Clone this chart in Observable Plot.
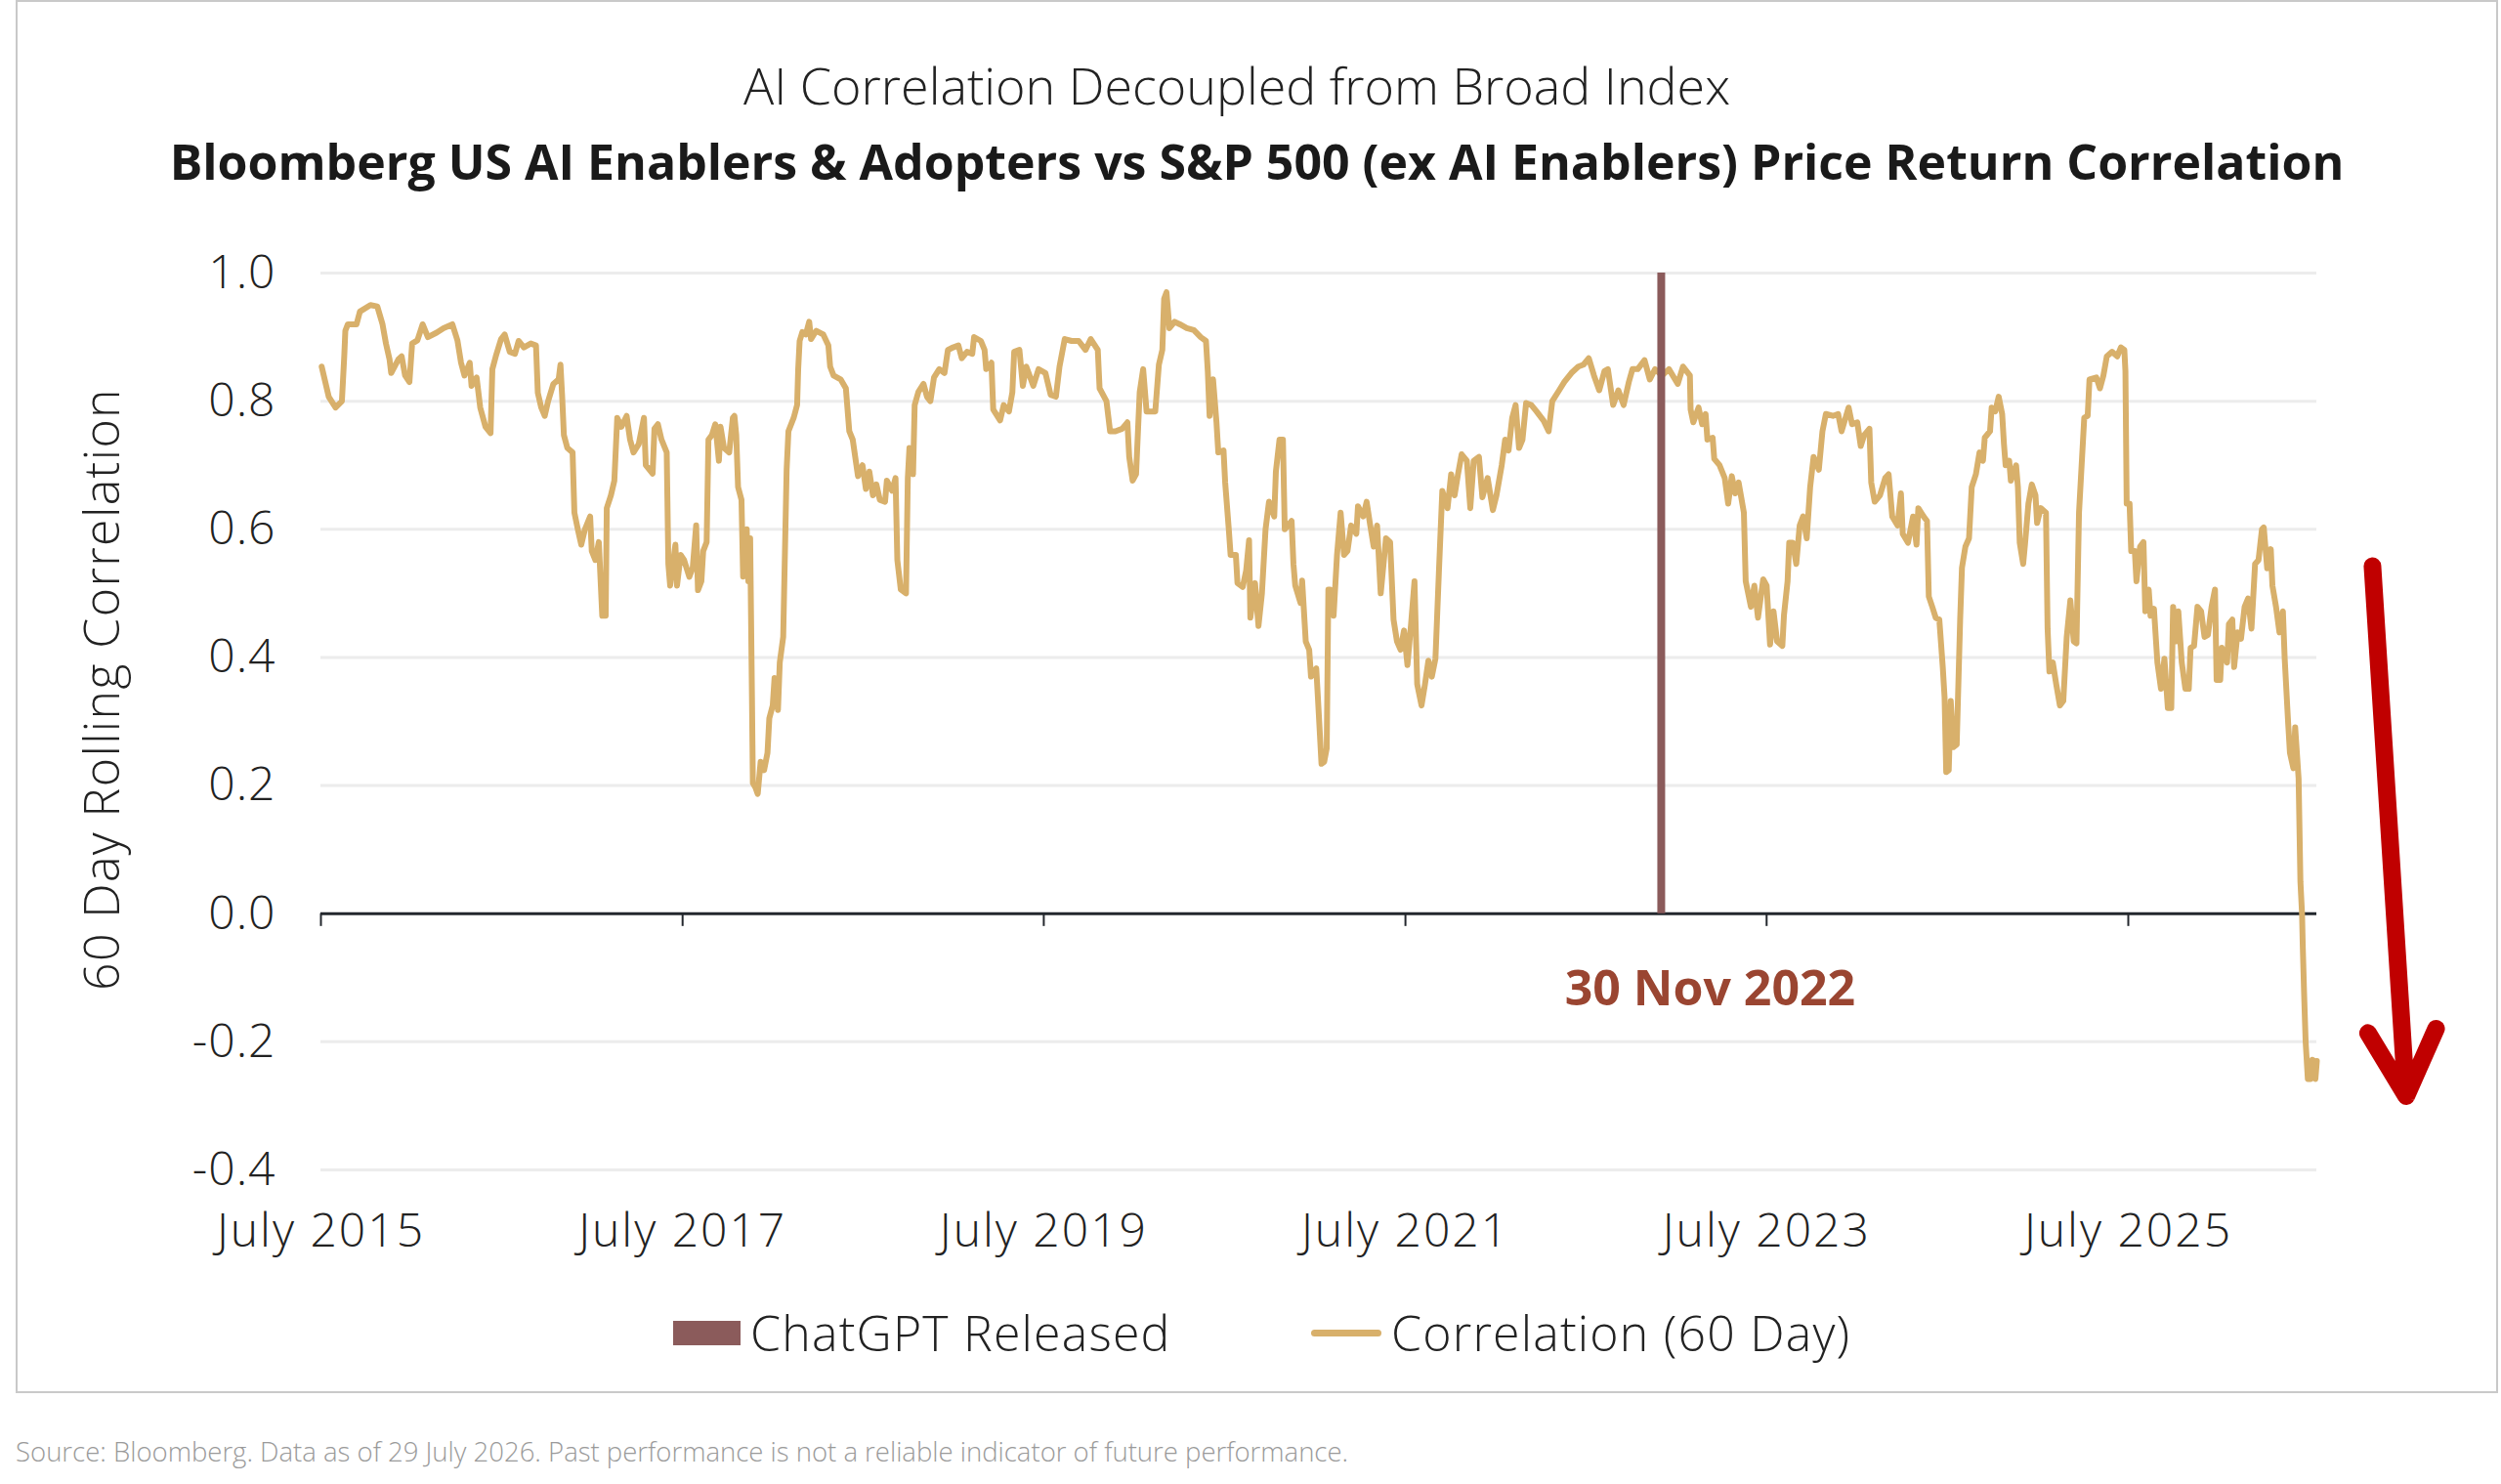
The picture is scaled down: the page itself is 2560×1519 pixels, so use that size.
<!DOCTYPE html>
<html>
<head>
<meta charset="utf-8">
<script src="https://cdn.jsdelivr.net/npm/d3@7"></script>
<script src="https://cdn.jsdelivr.net/npm/@observablehq/plot@0.6"></script>
<style>
html, body { margin: 0; padding: 0; background: #fff; }
body { width: 2560px; height: 1519px; position: relative; overflow: hidden; font-family: "Open Sans", sans-serif; color: #222; }
#frame { position: absolute; left: 16px; top: 0; width: 2541px; height: 1426px; border: 2px solid #c9c9c9; box-sizing: border-box; }
#t1 { position: absolute; left: 0; width: 2532px; top: 55px; line-height: 64px; text-align: center; font-weight: 300; font-size: 52px; color: #222; }
#t2 { position: absolute; left: 16px; width: 2541px; top: 133px; line-height: 64px; text-align: center; font-weight: 700; font-size: 50px; color: #1a1a1a; }
#chart { position: absolute; left: 0; top: 230px; }
#chart g[aria-label="x-axis tick label"] text { letter-spacing: 2px; }
#chart g[aria-label="y-axis tick label"] text { letter-spacing: 1px; }
.leg { position: absolute; top: 1332px; height: 64px; line-height: 64px; font-size: 50px; letter-spacing: 1.2px; font-weight: 300; color: #222; white-space: nowrap; }
.sw-rect { position: absolute; top: 1352px; width: 69px; height: 25px; }
.sw-line { position: absolute; top: 1361px; width: 72px; height: 7px; border-radius: 4px; }
#source { position: absolute; left: 16px; top: 1470px; line-height: 32px; font-size: 27.5px; font-weight: 300; color: #9a9a9a; white-space: nowrap; }
</style>
</head>
<body>
<div id="frame"></div>
<div id="t1">AI Correlation Decoupled from Broad Index</div>
<div id="t2">Bloomberg US AI Enablers &amp; Adopters vs S&amp;P 500 (ex AI Enablers) Price Return Correlation</div>
<div id="chart"></div>
<div class="sw-rect" id="sw1" style="left:689px;"></div>
<div class="leg" id="lg1" style="left:768px;"></div>
<div class="sw-line" id="sw2" style="left:1342px;"></div>
<div class="leg" id="lg2" style="left:1424px;"></div>
<div id="source">Source: Bloomberg. Data as of 29 July 2026. Past performance is not a reliable indicator of future performance.</div>
<script>
// ---- data ----
const seriesNames = ["ChatGPT Released", "Correlation (60 Day)"];
const seriesColors = ["#8B5B5B", "#D8B06B"];
const yTitle = "60 Day Rolling Correlation";
const annotationText = "30 Nov 2022";
const chatgptDay = "2022-11-30";
const tickYears = [2015, 2017, 2019, 2021, 2023, 2025];
const yTicks = [-0.4, -0.2, 0.0, 0.2, 0.4, 0.6, 0.8, 1.0];

// time as decimal years
const corrYear = [
2015.500,2015.539,2015.577,2015.612,2015.625,2015.631,2015.645,2015.693,2015.712,2015.770,
2015.808,2015.837,2015.856,2015.876,2015.885,2015.924,2015.943,2015.962,2015.986,2016.001,
2016.030,2016.059,2016.088,2016.136,2016.174,2016.223,2016.251,2016.271,2016.290,2016.319,
2016.329,2016.357,2016.377,2016.406,2016.434,2016.444,2016.463,2016.492,2016.512,2016.540,
2016.569,2016.589,2016.618,2016.656,2016.685,2016.695,2016.714,2016.733,2016.752,2016.781,
2016.810,2016.820,2016.829,2016.839,2016.858,2016.887,2016.897,2016.916,2016.935,2016.955,
2016.984,2016.993,2017.013,2017.032,2017.051,2017.070,2017.076,2017.099,2017.118,2017.134,
2017.157,2017.186,2017.205,2017.224,2017.253,2017.282,2017.292,2017.330,2017.340,2017.359,
2017.379,2017.408,2017.417,2017.427,2017.456,2017.465,2017.485,2017.504,2017.533,2017.552,
2017.571,2017.581,2017.600,2017.610,2017.629,2017.639,2017.658,2017.677,2017.697,2017.706,
2017.725,2017.754,2017.774,2017.783,2017.793,2017.803,2017.822,2017.831,2017.851,2017.860,
2017.870,2017.880,2017.885,2017.899,2017.912,2017.928,2017.947,2017.966,2017.976,2017.995,
2018.005,2018.024,2018.034,2018.053,2018.072,2018.082,2018.111,2018.130,2018.136,2018.144,
2018.159,2018.178,2018.197,2018.207,2018.236,2018.275,2018.303,2018.313,2018.332,2018.371,
2018.400,2018.419,2018.438,2018.467,2018.492,2018.511,2018.530,2018.550,2018.569,2018.588,
2018.617,2018.627,2018.656,2018.675,2018.685,2018.704,2018.733,2018.743,2018.752,2018.772,
2018.781,2018.801,2018.830,2018.849,2018.868,2018.888,2018.917,2018.946,2018.965,2018.994,
2019.023,2019.042,2019.071,2019.100,2019.110,2019.148,2019.168,2019.177,2019.206,2019.216,
2019.254,2019.274,2019.303,2019.322,2019.332,2019.361,2019.380,2019.399,2019.438,2019.467,
2019.505,2019.534,2019.563,2019.583,2019.612,2019.650,2019.689,2019.727,2019.756,2019.795,
2019.805,2019.843,2019.863,2019.892,2019.930,2019.959,2019.969,2019.988,2020.007,2020.027,
2020.046,2020.065,2020.113,2020.133,2020.152,2020.162,2020.175,2020.191,2020.220,2020.249,
2020.287,2020.326,2020.364,2020.393,2020.403,2020.413,2020.432,2020.451,2020.461,2020.490,
2020.499,2020.519,2020.529,2020.558,2020.567,2020.596,2020.615,2020.631,2020.638,2020.664,
2020.683,2020.702,2020.722,2020.741,2020.770,2020.779,2020.799,2020.818,2020.828,2020.866,
2020.876,2020.886,2020.915,2020.924,2020.944,2020.963,2020.973,2021.002,2021.011,2021.031,
2021.046,2021.060,2021.069,2021.079,2021.098,2021.117,2021.137,2021.156,2021.175,2021.195,
2021.224,2021.233,2021.262,2021.281,2021.301,2021.320,2021.339,2021.359,2021.388,2021.411,
2021.430,2021.449,2021.469,2021.488,2021.507,2021.527,2021.546,2021.561,2021.585,2021.604,
2021.623,2021.642,2021.662,2021.681,2021.691,2021.700,2021.729,2021.749,2021.768,2021.787,
2021.807,2021.836,2021.855,2021.874,2021.903,2021.922,2021.951,2021.980,2022.000,2022.029,
2022.048,2022.067,2022.087,2022.106,2022.125,2022.144,2022.164,2022.193,2022.222,2022.260,
2022.289,2022.309,2022.347,2022.376,2022.415,2022.453,2022.482,2022.511,2022.540,2022.569,
2022.598,2022.617,2022.646,2022.675,2022.704,2022.733,2022.753,2022.782,2022.820,2022.849,
2022.878,2022.917,2022.955,2023.004,2023.033,2023.071,2023.075,2023.090,2023.119,2023.139,
2023.158,2023.168,2023.197,2023.206,2023.235,2023.264,2023.283,2023.303,2023.322,2023.341,
2023.370,2023.380,2023.409,2023.428,2023.448,2023.477,2023.496,2023.515,2023.534,2023.554,
2023.583,2023.592,2023.612,2023.621,2023.641,2023.660,2023.679,2023.698,2023.718,2023.737,
2023.756,2023.785,2023.805,2023.824,2023.863,2023.892,2023.911,2023.950,2023.969,2023.998,
2024.017,2024.036,2024.065,2024.075,2024.094,2024.123,2024.152,2024.171,2024.191,2024.220,
2024.239,2024.249,2024.278,2024.306,2024.325,2024.335,2024.364,2024.383,2024.393,2024.412,
2024.431,2024.451,2024.470,2024.480,2024.489,2024.503,2024.514,2024.528,2024.547,2024.566,
2024.576,2024.595,2024.615,2024.630,2024.653,2024.673,2024.692,2024.702,2024.731,2024.740,
2024.760,2024.779,2024.798,2024.808,2024.817,2024.837,2024.846,2024.875,2024.885,2024.895,
2024.914,2024.924,2024.943,2024.962,2024.982,2024.991,2025.011,2025.040,2025.049,2025.059,
2025.078,2025.097,2025.117,2025.136,2025.155,2025.175,2025.194,2025.209,2025.223,2025.252,
2025.271,2025.281,2025.319,2025.339,2025.358,2025.377,2025.406,2025.435,2025.455,2025.474,
2025.480,2025.487,2025.503,2025.512,2025.532,2025.541,2025.561,2025.580,2025.590,2025.609,
2025.619,2025.638,2025.657,2025.677,2025.696,2025.715,2025.734,2025.744,2025.763,2025.773,
2025.792,2025.812,2025.831,2025.841,2025.860,2025.879,2025.899,2025.918,2025.937,2025.957,
2025.976,2025.985,2026.005,2026.014,2026.043,2026.053,2026.072,2026.082,2026.101,2026.120,
2026.140,2026.159,2026.178,2026.198,2026.217,2026.236,2026.246,2026.265,2026.285,2026.294,
2026.314,2026.333,2026.352,2026.362,2026.381,2026.391,2026.410,2026.420,2026.439,2026.449,
2026.458,2026.462,2026.470,2026.478,2026.490,2026.505,2026.515,2026.525,2026.532,2026.540
];
const corrValue = [
0.854,0.807,0.790,0.800,0.870,0.910,0.920,0.920,0.940,0.950,
0.948,0.920,0.890,0.865,0.844,0.865,0.870,0.840,0.830,0.890,
0.895,0.920,0.900,0.907,0.914,0.920,0.895,0.860,0.840,0.860,
0.824,0.837,0.790,0.760,0.750,0.850,0.870,0.897,0.904,0.877,
0.874,0.894,0.884,0.890,0.887,0.813,0.790,0.777,0.800,0.827,
0.834,0.857,0.810,0.747,0.727,0.720,0.626,0.600,0.576,0.600,
0.620,0.566,0.552,0.580,0.465,0.465,0.633,0.653,0.676,0.774,
0.760,0.777,0.740,0.720,0.733,0.774,0.700,0.687,0.757,0.764,
0.740,0.720,0.546,0.512,0.576,0.512,0.560,0.552,0.526,0.540,
0.606,0.505,0.519,0.566,0.580,0.740,0.747,0.764,0.707,0.760,
0.727,0.720,0.774,0.777,0.747,0.666,0.646,0.526,0.600,0.519,
0.586,0.338,0.204,0.197,0.187,0.237,0.224,0.251,0.305,0.325,
0.368,0.318,0.392,0.432,0.693,0.753,0.774,0.794,0.850,0.894,
0.908,0.904,0.924,0.897,0.910,0.904,0.887,0.854,0.840,0.834,
0.820,0.753,0.740,0.683,0.700,0.663,0.690,0.653,0.670,0.646,
0.643,0.676,0.660,0.680,0.552,0.506,0.500,0.680,0.727,0.686,
0.794,0.814,0.827,0.807,0.800,0.837,0.850,0.844,0.880,0.884,
0.887,0.867,0.877,0.874,0.900,0.894,0.880,0.850,0.860,0.787,
0.770,0.794,0.784,0.814,0.877,0.880,0.824,0.854,0.824,0.850,
0.844,0.810,0.807,0.854,0.897,0.894,0.894,0.880,0.897,0.880,
0.820,0.800,0.753,0.753,0.757,0.767,0.713,0.676,0.686,0.814,
0.850,0.784,0.784,0.857,0.880,0.960,0.970,0.914,0.924,0.920,
0.914,0.911,0.900,0.894,0.847,0.777,0.834,0.767,0.720,0.723,
0.673,0.600,0.560,0.560,0.516,0.510,0.536,0.583,0.462,0.516,
0.449,0.500,0.600,0.643,0.620,0.690,0.740,0.740,0.600,0.613,
0.546,0.512,0.485,0.520,0.425,0.412,0.370,0.383,0.338,0.234,
0.237,0.258,0.506,0.506,0.465,0.560,0.626,0.560,0.566,0.606,
0.593,0.636,0.620,0.643,0.606,0.573,0.606,0.500,0.586,0.580,
0.459,0.425,0.412,0.442,0.388,0.452,0.519,0.358,0.325,0.358,
0.395,0.370,0.398,0.532,0.600,0.660,0.633,0.686,0.653,0.686,
0.717,0.707,0.633,0.707,0.713,0.650,0.680,0.630,0.653,0.700,
0.740,0.723,0.774,0.794,0.727,0.740,0.797,0.794,0.784,0.770,
0.753,0.800,0.817,0.830,0.844,0.854,0.857,0.867,0.840,0.817,
0.847,0.850,0.794,0.817,0.794,0.830,0.850,0.850,0.864,0.834,
0.850,0.840,0.850,0.827,0.854,0.840,0.787,0.767,0.790,0.764,
0.780,0.740,0.743,0.710,0.700,0.680,0.640,0.683,0.656,0.673,
0.626,0.519,0.479,0.512,0.462,0.522,0.512,0.420,0.472,0.425,
0.418,0.466,0.519,0.579,0.579,0.546,0.606,0.620,0.586,0.666,
0.713,0.693,0.753,0.780,0.777,0.780,0.753,0.790,0.764,0.767,
0.730,0.747,0.757,0.673,0.643,0.653,0.680,0.686,0.620,0.606,
0.656,0.593,0.579,0.620,0.576,0.633,0.620,0.613,0.495,0.479,
0.462,0.459,0.385,0.338,0.221,0.224,0.332,0.260,0.264,0.459,
0.540,0.573,0.586,0.666,0.686,0.720,0.707,0.743,0.753,0.790,
0.784,0.807,0.780,0.733,0.700,0.707,0.676,0.700,0.666,0.579,
0.546,0.576,0.640,0.670,0.653,0.610,0.633,0.626,0.445,0.378,
0.392,0.358,0.325,0.332,0.432,0.489,0.425,0.422,0.626,0.774,
0.777,0.834,0.837,0.820,0.840,0.870,0.877,0.870,0.884,0.880,
0.847,0.640,0.640,0.566,0.566,0.519,0.573,0.580,0.472,0.506,
0.465,0.476,0.392,0.351,0.398,0.321,0.321,0.479,0.425,0.472,
0.392,0.351,0.351,0.415,0.418,0.479,0.472,0.432,0.435,0.479,
0.506,0.365,0.365,0.415,0.392,0.452,0.459,0.385,0.439,0.429,
0.479,0.492,0.445,0.546,0.552,0.600,0.603,0.539,0.569,0.512,
0.479,0.439,0.472,0.398,0.298,0.251,0.227,0.291,0.211,0.050,
0.000,-0.050,-0.130,-0.200,-0.258,-0.258,-0.228,-0.230,-0.258,-0.230
];

// annotation placement (data space)
const annotationY = [-0.118];
const arrowFromYear = [2026.848], arrowFromValue = [0.5425];
const arrowToYear = [2027.035], arrowToValue = [-0.285];

// ---- build ----
const toDate = y => {
  const yr = Math.floor(y);
  const s = Date.UTC(yr, 0, 1), e = Date.UTC(yr + 1, 0, 1);
  return new Date(s + (y - yr) * (e - s));
};
const data = corrYear.map((y, i) => ({date: toDate(y), corr: corrValue[i]}));
const xTicks = tickYears.map(y => new Date(Date.UTC(y, 6, 1)));
const chatgptDate = new Date(chatgptDay + "T00:00:00Z");
const arrows = arrowFromYear.map((y, i) => ({
  x1: toDate(y), y1: arrowFromValue[i], x2: toDate(arrowToYear[i]), y2: arrowToValue[i]
}));

const chart = Plot.plot({
  width: 2560,
  height: 1080,
  marginTop: 49,
  marginLeft: 328,
  marginRight: 189,
  marginBottom: 113,
  style: {fontFamily: '"Open Sans", sans-serif', fontWeight: 300, background: "transparent", color: "#222", overflow: "visible"},
  x: {type: "utc", domain: [xTicks[0], data[data.length - 1].date]},
  y: {domain: [yTicks[0], yTicks[yTicks.length - 1]]},
  marks: [
    Plot.gridY(yTicks.filter(d => d !== 0), {stroke: "#ececec", strokeOpacity: 1, strokeWidth: 3}),
    Plot.axisY(yTicks, {
      tickSize: 0, tickPadding: 46, fontSize: 48, fill: "#222",
      tickFormat: d => d.toFixed(1), label: null
    }),
    Plot.text([yTitle], {
      frameAnchor: "left", textAnchor: "middle", rotate: -90, dx: -223, dy: -33,
      fontSize: 50, fill: "#222", text: d => d
    }),
    Plot.axisX(xTicks, {
      tickSize: 0, tickPadding: 44, fontSize: 48, fill: "#222",
      tickFormat: d => "July " + d.getUTCFullYear(), label: null
    }),
    Plot.ruleY([0], {stroke: "#23272d", strokeWidth: 3}),
    Plot.ruleX(xTicks, {y1: 0, y2: -0.02, stroke: "#23272d", strokeWidth: 2}),
    Plot.lineY(data, {x: "date", y: "corr", stroke: seriesColors[1], strokeWidth: 6, strokeLinejoin: "round"}),
    Plot.ruleX([chatgptDate], {y1: 0, y2: 1, stroke: seriesColors[0], strokeWidth: 8}),
    Plot.text([annotationText], {
      x: () => chatgptDate, y: () => annotationY[0], text: d => d, dx: 50,
      fill: "#9A4531", fontSize: 50, fontWeight: 700
    }),
    Plot.arrow(arrows, {
      x1: "x1", y1: "y1", x2: "x2", y2: "y2",
      stroke: "#C00000", strokeWidth: 18, headLength: 6.3, headAngle: 55, strokeLinecap: "round"
    })
  ]
});
document.getElementById("chart").appendChild(chart);
const yt = chart.querySelector('g[aria-label="text"] text');
if (yt) yt.style.letterSpacing = "1.4px";

// legend
document.getElementById("sw1").style.background = seriesColors[0];
document.getElementById("sw2").style.background = seriesColors[1];
document.getElementById("lg1").textContent = seriesNames[0];
document.getElementById("lg2").textContent = seriesNames[1];
</script>
</body>
</html>
